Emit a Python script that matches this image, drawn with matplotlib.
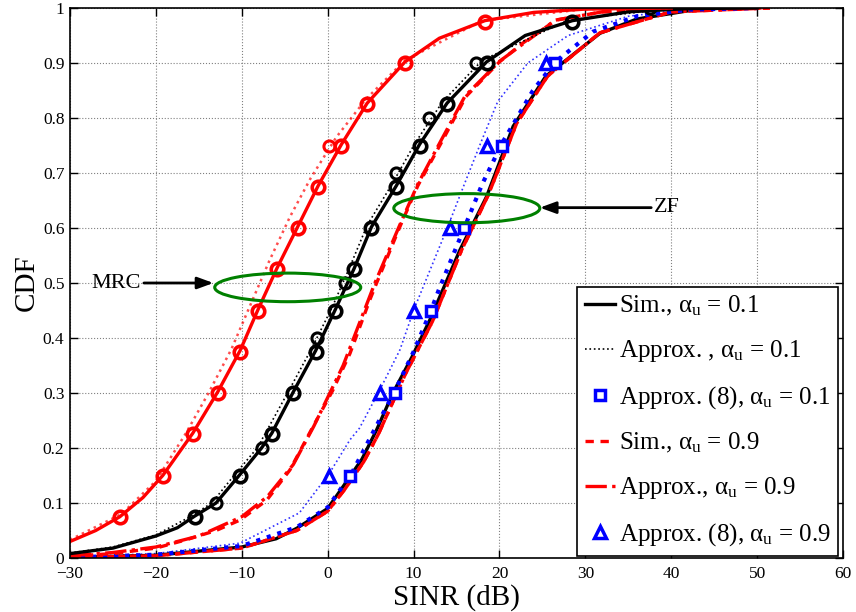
import matplotlib
matplotlib.use('Agg')
import matplotlib.pyplot as plt
from matplotlib.lines import Line2D
from matplotlib.patches import Ellipse

plt.rcParams['font.family'] = ['Liberation Serif', 'DejaVu Serif']
plt.rcParams['mathtext.fontset'] = 'custom'
plt.rcParams['mathtext.rm'] = 'Liberation Serif'
plt.rcParams['mathtext.it'] = 'Liberation Serif:italic'

# MRC, red solid curve (sim) and its dotted approximation
mrc_red_x = [-30, -27, -24.2, -21.5, -19.2, -15.7, -12.8, -10.2, -8.1, -5.9, -3.5, -1.1, 1.6, 4.6, 9.0, 13, 18.3, 24, 30, 40]
mrc_red_p = [0.03, 0.05, 0.075, 0.11, 0.15, 0.227, 0.302, 0.377, 0.452, 0.527, 0.602, 0.677, 0.752, 0.827, 0.902, 0.945, 0.977, 0.992, 0.998, 1.0]
mrc_red_apx_x = [-30, -24, -20, -16.5, -13.8, -11.2, -9, -6.8, -4.4, -2, 1, 4.5, 9, 18, 30, 40]
mrc_red_apx_p = [0.033, 0.08, 0.14, 0.227, 0.302, 0.38, 0.46, 0.54, 0.62, 0.69, 0.765, 0.835, 0.905, 0.977, 0.998, 1.0]
mrc_red_mk_x = [-24.2, -19.2, -15.7, -12.8, -10.2, -8.1, -5.9, -3.5, -1.1, 1.6, 4.6, 9.0, 18.3]
mrc_red_mk_p = [0.075, 0.15, 0.225, 0.3, 0.375, 0.45, 0.525, 0.6, 0.675, 0.75, 0.825, 0.9, 0.975]
mrc_red_open_x = [0.2]
mrc_red_open_p = [0.75]

# MRC, black solid curve
mrc_blk_x = [-30, -25, -20, -17.5, -15.5, -13, -10.2, -7.7, -6.5, -4.0, -1.4, 0.9, 3.1, 5.1, 8.0, 10.7, 13.9, 18.5, 23, 28.5, 35, 42, 50]
mrc_blk_p = [0.008, 0.018, 0.04, 0.055, 0.076, 0.1, 0.152, 0.2, 0.227, 0.302, 0.377, 0.452, 0.527, 0.602, 0.677, 0.752, 0.827, 0.902, 0.95, 0.977, 0.993, 0.999, 1.0]
mrc_blk_apx_x = [-30, -25, -20, -16, -13.5, -10.8, -8.2, -4.6, -1.9, 0.5, 2.6, 4.6, 7.5, 10.2, 13.4, 18, 28, 40, 50]
mrc_blk_apx_p = [0.009, 0.02, 0.042, 0.075, 0.1, 0.152, 0.2, 0.302, 0.38, 0.455, 0.53, 0.605, 0.68, 0.755, 0.83, 0.905, 0.978, 0.999, 1.0]
mrc_blk_mk_x = [-15.5, -10.2, -6.5, -4.0, -1.4, 0.9, 3.1, 5.1, 8.0, 10.7, 13.9, 18.5, 28.5]
mrc_blk_mk_p = [0.075, 0.15, 0.225, 0.3, 0.375, 0.45, 0.525, 0.6, 0.675, 0.75, 0.825, 0.9, 0.975]
mrc_blk_open_x = [-13, -7.7, -1.3, 2.0, 7.9, 11.8, 17.3, 37.5]
mrc_blk_open_p = [0.1, 0.2, 0.4, 0.5, 0.7, 0.8, 0.9, 1.0]

# red dashed / dash-dot curves in the middle
mid_red_x = [-30, -25, -20, -16.5, -13, -10.2, -7.1, -4.4, -1.7, 0.6, 2.6, 4.9, 5.7, 8.4, 10.5, 13.4, 16.1, 20, 22.7, 26.6, 32, 40, 51]
mid_red_p = [0.003, 0.008, 0.018, 0.033, 0.05, 0.069, 0.105, 0.16, 0.239, 0.305, 0.372, 0.469, 0.5, 0.602, 0.677, 0.76, 0.839, 0.902, 0.936, 0.978, 0.993, 0.999, 1.0]
mid_red_apx_x = [-30, -25, -20, -15, -10, -7, -4, -1.6, 1.8, 5.5, 8.3, 10.5, 13.3, 16, 20, 26.5, 32, 40, 51]
mid_red_apx_p = [0.004, 0.01, 0.02, 0.04, 0.075, 0.112, 0.17, 0.24, 0.35, 0.5, 0.602, 0.68, 0.762, 0.84, 0.903, 0.978, 0.993, 0.999, 1.0]

# ZF curves
zf_blk_x = [-30, -20, -10, -6, -3.6, 0, 1.8, 4, 5.7, 7.6, 9.8, 11.9, 15.4, 18.5, 21.6, 25.4, 31.7, 36, 42, 46]
zf_blk_p = [0.001, 0.005, 0.02, 0.035, 0.054, 0.09, 0.13, 0.18, 0.233, 0.3, 0.365, 0.433, 0.56, 0.657, 0.785, 0.876, 0.954, 0.98, 0.995, 1.0]
zf_red_x = [-30, -20, -10, -3.6, 0, 2, 4.2, 5.9, 9.1, 12.2, 15.6, 18.7, 22, 25.6, 31.7, 40, 51.5]
zf_red_p = [0.001, 0.004, 0.018, 0.05, 0.085, 0.125, 0.175, 0.225, 0.336, 0.43, 0.56, 0.66, 0.79, 0.876, 0.955, 0.993, 1.0]
zf_sq_line_x = [-30, -20, -10, -3.6, 0, 2.8, 5.5, 7.8, 10, 12.05, 13.0, 15.9, 18, 20.3, 23.9, 26.5, 30.9, 36, 42, 50]
zf_sq_line_p = [0.001, 0.006, 0.022, 0.056, 0.092, 0.154, 0.235, 0.303, 0.375, 0.451, 0.49, 0.6, 0.68, 0.754, 0.85, 0.902, 0.957, 0.985, 0.997, 1.0]
zf_tri_line_x = [-30, -20, -10.2, -3.3, 0.2, 2.6, 3.7, 6.05, 8.4, 10.1, 14.0, 16.1, 17.8, 19.8, 23.3, 28, 35, 42, 50]
zf_tri_line_p = [0.002, 0.008, 0.027, 0.082, 0.154, 0.215, 0.236, 0.305, 0.378, 0.454, 0.603, 0.687, 0.754, 0.83, 0.9, 0.95, 0.985, 0.998, 1.0]

# markers from (8)
sq_x = [2.6, 7.8, 12.05, 15.9, 20.3, 26.5]
sq_p = [0.15, 0.3, 0.45, 0.6, 0.75, 0.9]
tri_x = [0.2, 6.05, 10.1, 14.2, 18.5, 25.4]
tri_p = [0.15, 0.3, 0.45, 0.6, 0.75, 0.9]

x_ticks = [-30, -20, -10, 0, 10, 20, 30, 40, 50, 60]
y_ticks = [0, 0.1, 0.2, 0.3, 0.4, 0.5, 0.6, 0.7, 0.8, 0.9, 1]
y_labels = ['0', '0.1', '0.2', '0.3', '0.4', '0.5', '0.6', '0.7', '0.8', '0.9', '1']

legend_labels = ['Sim., α$_{\\mathrm{u}}$ = 0.1',
                 'Approx. , α$_{\\mathrm{u}}$ = 0.1',
                 'Approx. (8), α$_{\\mathrm{u}}$ = 0.1',
                 'Sim., α$_{\\mathrm{u}}$ = 0.9',
                 'Approx., α$_{\\mathrm{u}}$ = 0.9',
                 'Approx. (8), α$_{\\mathrm{u}}$ = 0.9']

fig = plt.figure(figsize=(8.56, 6.12), dpi=100)
ax = fig.add_axes([70 / 856, 54 / 612, 773 / 856, 550 / 612])

lw = 2.4
# ZF group
ax.plot(zf_tri_line_x, zf_tri_line_p, color='blue', ls=':', lw=1.2, alpha=0.8)
ax.plot(zf_blk_x, zf_blk_p, color='k', ls=':', lw=1.2)
ax.plot(zf_blk_x, zf_blk_p, color='k', ls='-', lw=lw)
ax.plot(zf_red_x, zf_red_p, color='red', ls='--', lw=lw, dashes=(2.5, 2))
ax.plot(zf_red_x, zf_red_p, color='red', ls='-.', lw=lw)
ax.plot(zf_sq_line_x, zf_sq_line_p, color='blue', ls=':', lw=lw + 0.6)

# middle red curves
ax.plot(mid_red_apx_x, mid_red_apx_p, color='red', ls='-.', lw=lw)
ax.plot(mid_red_x, mid_red_p, color='red', ls='--', lw=lw, dashes=(2.5, 2))

# MRC black
ax.plot(mrc_blk_apx_x, mrc_blk_apx_p, color='k', ls=':', lw=1.2)
ax.plot(mrc_blk_x, mrc_blk_p, color='k', ls='-', lw=lw)
ax.plot(mrc_blk_mk_x, mrc_blk_mk_p, ls='none', marker='o', ms=9, mew=2.6, mec='k', mfc='none')
ax.plot(mrc_blk_open_x, mrc_blk_open_p, ls='none', marker='o', ms=8, mew=2.2, mec='k', mfc='none')

# MRC red
ax.plot(mrc_red_apx_x, mrc_red_apx_p, color='red', ls=':', lw=1.8, alpha=0.7)
ax.plot(mrc_red_x, mrc_red_p, color='red', ls='-', lw=lw)
ax.plot(mrc_red_mk_x, mrc_red_mk_p, ls='none', marker='o', ms=9, mew=2.6, mec='red', mfc='none')
ax.plot(mrc_red_open_x, mrc_red_open_p, ls='none', marker='o', ms=8, mew=2.2, mec='red', mfc='none')

# markers from (8)
ax.plot(sq_x, sq_p, ls='none', marker='s', ms=7, mew=2.5, mec='blue', mfc='white')
ax.plot(tri_x, tri_p, ls='none', marker='^', ms=9, mew=2.5, mec='blue', mfc='white')

# ellipses and labels
ax.add_patch(Ellipse((-4.65, 0.492), 17, 0.052, fill=False, ec='#008000', lw=2.2, zorder=5))
ax.add_patch(Ellipse((16.2, 0.636), 17, 0.053, fill=False, ec='#008000', lw=2.2, zorder=5))
arrow = dict(arrowstyle='-|>,head_length=0.6,head_width=0.22', color='k', lw=2, shrinkA=0, shrinkB=0)
ax.annotate('MRC', xy=(-13.3, 0.5), xytext=(-24.6, 0.5), fontsize=16, va='center', ha='center',
            arrowprops=arrow)
ax.annotate('ZF', xy=(24.7, 0.637), xytext=(39.5, 0.637), fontsize=16, va='center', ha='center',
            arrowprops=arrow)

ax.set_xlim(-30, 60)
ax.set_ylim(0, 1)
ax.set_xticks(x_ticks)
ax.set_xticklabels(['\u2212' + str(-t) if t < 0 else str(t) for t in x_ticks])
ax.set_yticks(y_ticks)
ax.set_yticklabels(y_labels)
ax.tick_params(direction='in', top=True, right=True, length=6, width=1, labelsize=12.5, pad=4)
ax.tick_params(axis='x', pad=6)
ax.grid(True, ls=':', color='gray', lw=0.8)
for s in ax.spines.values():
    s.set_linewidth(1.2)
ax.set_xlabel('SINR (dB)', fontsize=21, labelpad=1)
ax.set_ylabel('CDF', fontsize=21, labelpad=2)

handles = [
    Line2D([], [], color='k', ls='-', lw=lw),
    Line2D([], [], color='k', ls=':', lw=1.2),
    Line2D([], [], ls='none', marker='s', ms=7, mew=2.5, mec='blue', mfc='white'),
    Line2D([], [], color='red', ls='--', lw=lw, dashes=(2.5, 2)),
    Line2D([], [], color='red', ls='-.', lw=lw),
    Line2D([], [], ls='none', marker='^', ms=9, mew=2.5, mec='blue', mfc='white'),
]
leg = ax.legend(handles, legend_labels, loc='lower right', bbox_to_anchor=(0.9935, 0.004),
                borderaxespad=0, fontsize=18, fancybox=False, framealpha=1, edgecolor='k',
                handlelength=1.2, handletextpad=0.15, borderpad=0.3, labelspacing=0.8)
leg.get_frame().set_linewidth(1.2)

fig.savefig('out.png', dpi=100)
